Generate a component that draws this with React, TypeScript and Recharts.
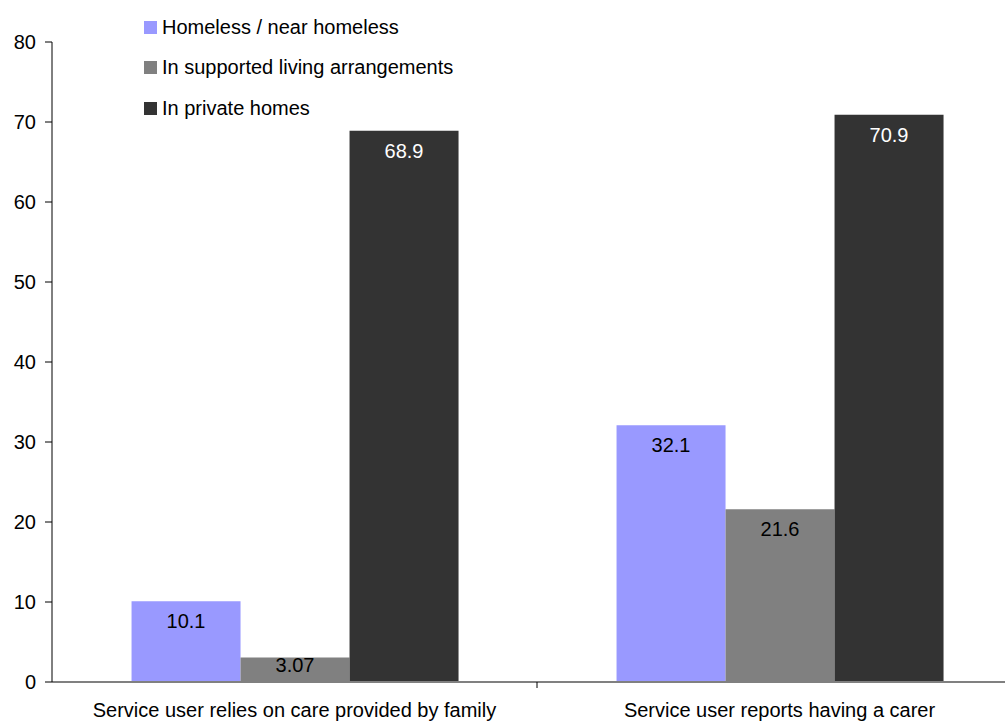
import { BarChart, Bar, XAxis, YAxis, Legend, LabelList } from 'recharts';

const categories = ['Service user relies on care provided by family', 'Service user reports having a carer'];
const seriesNames = ['Homeless / near homeless', 'In supported living arrangements', 'In private homes'];
const homeless = [10.1, 32.1];
const supported = [3.07, 21.6];
const privateHomes = [68.9, 70.9];
const yTicks = [0, 10, 20, 30, 40, 50, 60, 70, 80];

const colors = ['#9999FF', '#808080', '#333333'];
const labelColors = ['#000000', '#000000', '#FFFFFF'];
const FONT = 'Liberation Sans, Arial, sans-serif';

const data = categories.map((name, i) => ({
  name,
  homeless: homeless[i],
  supported: supported[i],
  privateHomes: privateHomes[i],
}));

const keys = ['homeless', 'supported', 'privateHomes'];

const makeLabel = (color: string) => (props: any) => {
  const { x, y, width, height, value } = props;
  const bottom = y + height;
  const cy = Math.min(y + 20, bottom - 17);
  return (
    <text x={x + width / 2} y={cy} fill={color} fontSize={20} fontFamily={FONT} textAnchor="middle" dominantBaseline="central">
      {value}
    </text>
  );
};

const CategoryTick = (props: any) => {
  const { x, y, payload } = props;
  const half = payload.offset ?? 0;
  return (
    <g>
      <line x1={x + half} y1={y - 8} x2={x + half} y2={y - 2} stroke="#000" />
      <text x={x} y={y + 20} fill="#000" fontSize={20} fontFamily={FONT} textAnchor="middle" dominantBaseline="central">
        {payload.value}
      </text>
    </g>
  );
};

const LegendContent = () => (
  <div style={{ fontFamily: FONT, fontSize: 20, color: '#000' }}>
    {seriesNames.map((n, i) => (
      <div key={n} style={{ display: 'flex', alignItems: 'center', height: 40.5 }}>
        <span style={{ display: 'inline-block', width: 13, height: 13, background: colors[i], marginRight: 5 }} />
        <span>{n}</span>
      </div>
    ))}
  </div>
);

export default function App() {
  return (
    <div style={{ position: 'absolute', left: 0, top: 0, width: 1005, height: 722, overflow: 'hidden', background: '#fff' }}>
      <BarChart
        width={1022}
        height={722}
        data={data}
        margin={{ top: 42, right: 0, bottom: 0, left: 0 }}
        barGap={0}
        barCategoryGap="16.4%"
      >
        <XAxis
          dataKey="name"
          height={40}
          axisLine={{ stroke: '#808080', strokeWidth: 2 }}
          tickLine={false}
          tick={<CategoryTick />}
          interval={0}
        />
        <YAxis
          width={52}
          domain={[0, 80]}
          ticks={yTicks}
          tickSize={7}
          tickMargin={9}
          axisLine={{ stroke: '#000' }}
          tickLine={{ stroke: '#000' }}
          tick={{ fill: '#000', fontSize: 20, fontFamily: FONT }}
          interval={0}
        />
        <Legend
          layout="vertical"
          verticalAlign="middle"
          align="center"
          wrapperStyle={{ left: 144, top: 7, width: 400, height: 122 }}
          content={<LegendContent />}
        />
        {keys.map((k, i) => (
          <Bar key={k} dataKey={k} name={seriesNames[i]} fill={colors[i]} isAnimationActive={false}>
            <LabelList dataKey={k} content={makeLabel(labelColors[i])} />
          </Bar>
        ))}
      </BarChart>
    </div>
  );
}
